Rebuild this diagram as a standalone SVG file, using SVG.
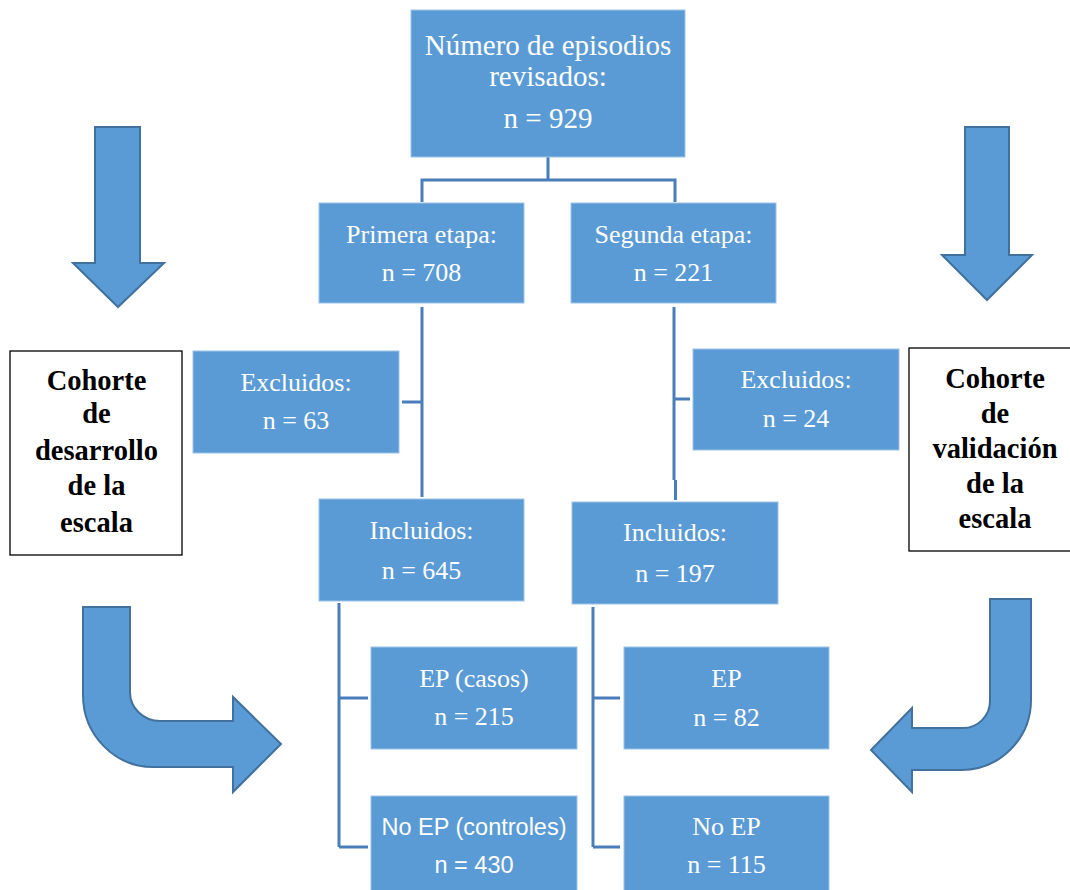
<svg xmlns="http://www.w3.org/2000/svg" width="1070" height="890" viewBox="0 0 1070 890">
<style>
.box{fill:#5B9BD5;stroke:#9DC3E6;stroke-width:1}
.t{font-family:"Liberation Serif","Times New Roman",serif;font-size:26px;fill:#fff;text-anchor:middle}
.big{font-size:29px}
.s{font-family:"Liberation Sans",Arial,sans-serif;font-size:23.5px;fill:#fff;text-anchor:middle}
.cb{fill:#fff;stroke:#000;stroke-width:1.3}
.ct{font-family:"Liberation Serif","Times New Roman",serif;font-size:28.5px;font-weight:bold;fill:#000;text-anchor:middle}
.con{fill:none;stroke:#4A7EBB;stroke-width:3}
.arr{fill:#5B9BD5;stroke:#41719C;stroke-width:2;stroke-linejoin:miter}
</style>
<rect width="1070" height="890" fill="#fff"/>
<g id="connectors">
<path class="con" d="M548,157 V180 M422,202 V180 H675 V202"/>
<path class="con" d="M422,307 V497 M402,402 H422"/>
<path class="con" d="M674,307 V480 M675.5,480 V500 M674,399 H690"/>
<path class="con" d="M339,603 V847 M339,698 H368 M339,847 H368"/>
<path class="con" d="M593,607 V847 M593,698 H620 M593,847 H620"/>
</g>
<g id="arrows">
<path class="arr" d="M95,127 H140 V263 H164 L118,307 L73,263 H95 Z"/>
<path class="arr" d="M965,127 H1009 V255 H1032 L987,300 L942,255 H965 Z"/>
<path class="arr" d="M83,607 H130 V692 A30,29 0 0 0 160,721 H233 V697 L281,744 L233,792 V767 H153 A70,72 0 0 1 83,695 Z"/>
<path class="arr" d="M990,599 H1031 V700 A70,70 0 0 1 961,770 H912 V792 L871,750 L912,708 V728 H963 A27,27 0 0 0 990,701 Z"/>
</g>
<g id="n-total">
<rect class="box" x="411" y="10" width="274" height="147"/>
<text class="t big" x="548" y="55">Número de episodios</text>
<text class="t big" x="548" y="86">revisados:</text>
<text class="t big" x="548" y="128">n = 929</text>
</g>
<g id="n-primera">
<rect class="box" x="319" y="203" width="205" height="100"/>
<text class="t" x="421.5" y="243">Primera etapa:</text>
<text class="t" x="421.5" y="281">n = 708</text>
</g>
<g id="n-segunda">
<rect class="box" x="571" y="203" width="205" height="100"/>
<text class="t" x="673.5" y="243">Segunda etapa:</text>
<text class="t" x="673.5" y="281">n = 221</text>
</g>
<g id="n-excl-left">
<rect class="box" x="193" y="351" width="206" height="102"/>
<text class="t" x="296" y="391">Excluidos:</text>
<text class="t" x="296" y="429">n = 63</text>
</g>
<g id="n-excl-right">
<rect class="box" x="693" y="349" width="206" height="101"/>
<text class="t" x="796" y="388">Excluidos:</text>
<text class="t" x="796" y="427">n = 24</text>
</g>
<g id="n-incl-left">
<rect class="box" x="319" y="499" width="205" height="102"/>
<text class="t" x="421.5" y="539">Incluidos:</text>
<text class="t" x="421.5" y="579">n = 645</text>
</g>
<g id="n-incl-right">
<rect class="box" x="572" y="502" width="206" height="102"/>
<text class="t" x="675" y="541">Incluidos:</text>
<text class="t" x="675" y="582">n = 197</text>
</g>
<g id="n-ep-left">
<rect class="box" x="371" y="647" width="206" height="102"/>
<text class="t" x="474" y="687">EP (casos)</text>
<text class="t" x="474" y="725">n = 215</text>
</g>
<g id="n-noep-left">
<rect class="box" x="371" y="796" width="206" height="100"/>
<text class="s" x="474" y="835">No EP (controles)</text>
<text class="s" x="474" y="873">n = 430</text>
</g>
<g id="n-ep-right">
<rect class="box" x="624" y="647" width="205" height="102"/>
<text class="t" x="726.5" y="687">EP</text>
<text class="t" x="726.5" y="726">n = 82</text>
</g>
<g id="n-noep-right">
<rect class="box" x="624" y="796" width="205" height="100"/>
<text class="t" x="726.5" y="835">No EP</text>
<text class="t" x="726.5" y="873">n = 115</text>
</g>
<g id="n-cohorte-dev">
<rect class="cb" x="10" y="351" width="172" height="204"/>
<text class="ct" x="96.5" y="390">Cohorte</text>
<text class="ct" x="96.5" y="423">de</text>
<text class="ct" x="96.5" y="460">desarrollo</text>
<text class="ct" x="96.5" y="495">de la</text>
<text class="ct" x="96.5" y="532">escala</text>
</g>
<g id="n-cohorte-val">
<rect class="cb" x="909" y="348" width="172" height="203"/>
<text class="ct" x="995" y="388">Cohorte</text>
<text class="ct" x="995" y="423">de</text>
<text class="ct" x="995" y="458">validación</text>
<text class="ct" x="995" y="493">de la</text>
<text class="ct" x="995" y="528">escala</text>
</g>
</svg>
